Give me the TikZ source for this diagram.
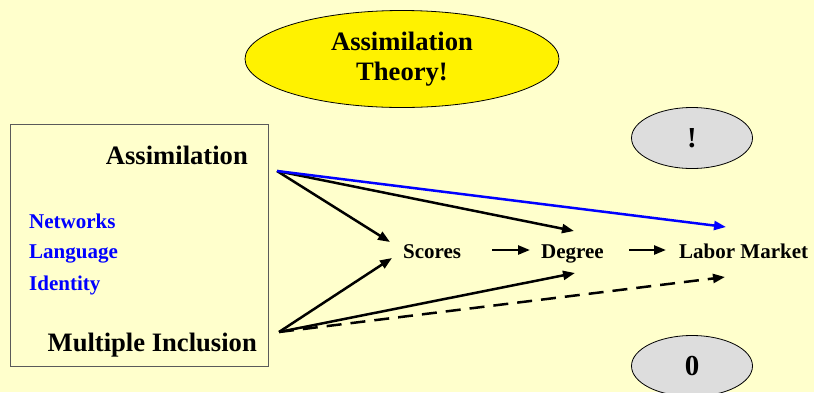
\documentclass[tikz,border=0pt]{standalone}
\usepackage{fontspec}
\setmainfont{Liberation Serif}
\usetikzlibrary{arrows.meta,shapes.geometric}
\definecolor{paleyellow}{RGB}{255,255,204}
\definecolor{ovalgrey}{RGB}{221,221,221}
\definecolor{linkblue}{RGB}{0,0,255}
\definecolor{framegrey}{RGB}{90,90,90}

\begin{document}
\begin{tikzpicture}[x=1pt, y=-1pt,
    bigtext/.style={font=\bfseries\fontsize{26.6}{30}\selectfont, inner sep=0pt},
    smalltext/.style={font=\bfseries\fontsize{21}{24}\selectfont, inner sep=0pt, anchor=base west},
    bluetext/.style={font=\bfseries\fontsize{21}{24}\selectfont, text=linkblue, inner sep=0pt, anchor=base west},
    flow/.style={line width=2.5pt, -{Triangle[length=12pt, width=9pt]}},
    badge/.style={ellipse, draw=black, line width=0.8pt, fill=ovalgrey, minimum width=121pt,
        minimum height=61pt, inner sep=0pt, font=\bfseries\fontsize{29}{30}\selectfont}]

    % background and page size
    \fill[paleyellow] (0, 0) rectangle (814, 392);
    \useasboundingbox (0, 0) rectangle (814, 392);

    % title oval
    \node[bigtext, ellipse, draw=black, line width=0.8pt, fill=yellow, minimum width=314pt,
        minimum height=97pt, align=center] (theory) at (402, 59) {Assimilation\\Theory!};

    % left frame with its labels
    \draw[framegrey, line width=0.8pt] (10, 124) rectangle (268, 366);
    \node[bigtext, anchor=base east] (assim) at (248, 164) {Assimilation};
    \node[bigtext, anchor=base east] (multi) at (257, 351) {Multiple Inclusion};
    \node[bluetext] (networks) at (29, 228) {Networks};
    \node[bluetext] (language) at (29, 258) {Language};
    \node[bluetext] (identity) at (29, 290) {Identity};

    % outcome chain
    \node[smalltext] (scores) at (403, 258) {Scores};
    \node[smalltext] (degree) at (541, 258) {Degree};
    \node[smalltext] (labor) at (679, 258) {Labor Market};

    % grey result ovals
    \node[badge] (bang) at (692, 138) {!};
    \node[badge] (zero) at (692, 366) {0};

    % arrow ends
    \coordinate (assimout) at (277, 171);
    \coordinate (multiout) at (279, 332);
    \coordinate (scoresin top) at (390, 242);
    \coordinate (scoresin bot) at (392, 258);
    \coordinate (degreein top) at (574, 231);
    \coordinate (degreein bot) at (575, 273);
    \coordinate (laborin top) at (726, 227);
    \coordinate (laborin bot) at (725, 277);
    \coordinate (scoresout) at (492, 250);
    \coordinate (degreein) at (530, 250);
    \coordinate (degreeout) at (629, 250);
    \coordinate (laborin) at (666, 250);

    % assimilation paths
    \draw[flow] (assimout) -- (scoresin top);
    \draw[flow] (assimout) -- (degreein top);
    \draw[flow, linkblue] (assimout) -- (laborin top);

    % multiple inclusion paths
    \draw[flow] (multiout) -- (scoresin bot);
    \draw[flow] (multiout) -- (degreein bot);
    \draw[flow, dash pattern=on 15pt off 9pt] (multiout) -- (laborin bot);

    % chain arrows
    \draw[flow] (scoresout) -- (degreein);
    \draw[flow] (degreeout) -- (laborin);
\end{tikzpicture}
\end{document}
